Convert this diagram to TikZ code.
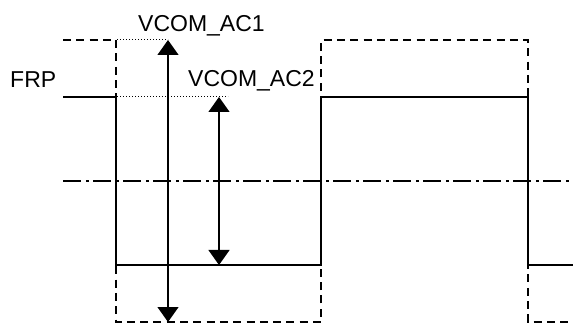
\documentclass[tikz,border=0pt]{standalone}
\usepackage{fontspec}
\setmainfont{Liberation Sans}
\usetikzlibrary{arrows.meta}
\begin{document}
\begin{tikzpicture}[x=1pt,y=-1pt,
  wave/.style={line width=1.8pt},
  envelope/.style={line width=1.6pt,dash pattern=on 8pt off 5.3pt},
  centerline/.style={line width=1.6pt,dash pattern=on 18pt off 5pt on 3pt off 4pt},
  guide/.style={line width=1pt,dash pattern=on 1pt off 2pt},
  span/.style={line width=1.3pt,{Triangle[width=21pt,length=15pt]}-{Triangle[width=21pt,length=15pt]}},
  lbl/.style={inner sep=0pt,font=\fontsize{23}{27}\selectfont}]
\useasboundingbox (0,0) rectangle (573,323);
% coordinates
\coordinate (w0) at (63,97);
\coordinate (e0) at (63,40);
\coordinate (a1t) at (168,40);
\coordinate (a1b) at (168,322);
\coordinate (a2t) at (219,97);
\coordinate (a2b) at (219,265);
\coordinate (g1s) at (117,40);
\coordinate (g2s) at (117,97);
\coordinate (c0) at (63,181);
\coordinate (c1) at (573,181);
% labels
\node[lbl,anchor=base west] (frp) at (10,88) {FRP};
\node[lbl,anchor=base west] (ac1) at (138,32) {VCOM\_AC1};
\node[lbl,anchor=base west] (ac2) at (188,87) {VCOM\_AC2};
% envelope (dashed)
\draw[envelope] (e0) -- (116,40) -- (116,322) -- (321,322) -- (321,40) -- (528,40) -- (528,322) -- (573,322);
% center line
\draw[centerline] (c0) -- (c1);
% FRP waveform
\draw[wave] (w0) -- (116,97) -- (116,265) -- (321,265) -- (321,97) -- (528,97) -- (528,265) -- (573,265);
% guides
\draw[guide] (g1s) -- (a1t);
\draw[guide] (g2s) -- (228,97);
% amplitude arrows
\draw[span] (a1t) -- (a1b);
\draw[span] (a2t) -- (a2b);
\end{tikzpicture}
\end{document}
